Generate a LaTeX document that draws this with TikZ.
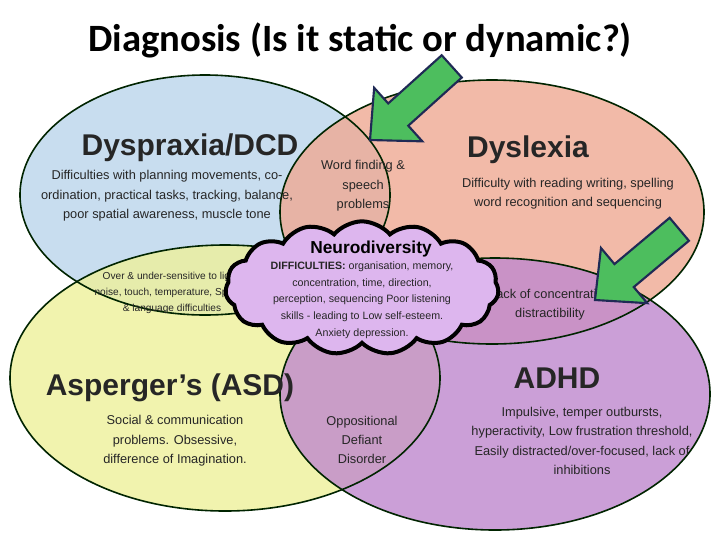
\documentclass[tikz,border=0pt]{standalone}
\usepackage{fontspec}
\setmainfont{Liberation Sans}
\newfontfamily\titlefont{Carlito}
\usetikzlibrary{shapes.symbols}
\definecolor{cblue}{HTML}{BBD5EC}
\definecolor{csal}{HTML}{EFA993}
\definecolor{cyel}{HTML}{EEF09A}
\definecolor{cpur}{HTML}{BF88CE}
\definecolor{ccloud}{HTML}{DDB6EE}
\definecolor{cgreen}{HTML}{4DBE5E}
\definecolor{cnavy}{HTML}{1F2A55}
\colorlet{cline}{black!65!green!40!black}
\begin{document}
\begin{tikzpicture}[x=0.75pt,y=-0.75pt,
  ell/.style={fill opacity=0.8},
  head/.style={font=\fontsize{22.5}{24}\selectfont\bfseries,text=black!85},
  body/.style={font=\fontsize{9.6}{14.5}\selectfont,align=center,text=black!85},
  small/.style={font=\fontsize{7.6}{12}\selectfont,align=center,text=black!85},
  cl/.style={font=\fontsize{8}{12.5}\selectfont,align=center,text=black!85},
  garrow/.style={fill=cgreen,draw=cnavy,line width=1.6pt,line join=miter}]
\useasboundingbox (0,0) rectangle (720,540);
\fill[white] (0,0) rectangle (720,540);
\node[font=\titlefont\fontsize{29}{32}\selectfont\bfseries] (title) at (360,40) {Diagnosis (Is it static or dynamic?)};
\fill[cblue,ell] (205,195) ellipse [x radius=185, y radius=120];
\fill[csal,ell] (492,212) ellipse [x radius=212, y radius=132];
\fill[cyel,ell] (225,378) ellipse [x radius=215, y radius=133];
\fill[cpur,ell] (495,394) ellipse [x radius=215, y radius=136];
\draw[cline,line width=1.2pt] (205,195) ellipse [x radius=185, y radius=120];
\draw[cline,line width=1.2pt] (492,212) ellipse [x radius=212, y radius=132];
\draw[cline,line width=1.2pt] (225,378) ellipse [x radius=215, y radius=133];
\draw[cline,line width=1.2pt] (495,394) ellipse [x radius=215, y radius=136];
\node[head] (dys) at (190,148) {Dyspraxia/DCD};
\node[body] (dyst) at (167,196) {Difficulties with planning movements, co-\\ordination, practical tasks, tracking, balance,\\poor spatial awareness, muscle tone};
\node[head] (dlx) at (528,150) {Dyslexia};
\node[body] (dlxt) at (568,194) {Difficulty with reading writing, spelling\\word recognition and sequencing};
\node[body] (wf) at (363,186) {Word finding \&\\speech\\problems};
\node[head] (asp) at (170,388) {Asperger’s (ASD)};
\node[body] (aspt) at (175,441) {Social \& communication\\problems. Obsessive,\\difference of Imagination.};
\node[body] (odd) at (362,440) {Oppositional\\Defiant\\Disorder};
\node[head] (adhd) at (557,378) {ADHD};
\node[body] (adhdt) at (582,441) {Impulsive, temper outbursts,\\hyperactivity, Low frustration threshold,\\Easily distracted/over-focused, lack of\\inhibitions};
\node[small] (over) at (172,293) {Over \& under-sensitive to light,\\noise, touch, temperature, Speech\\\& language difficulties};
\node[body] (conc) at (550,305) {Lack of concentration\\distractibility};
\node[cloud, cloud puffs=15, cloud puff arc=100, aspect=2, minimum width=205, minimum height=100,
  fill=ccloud, draw=black, line width=3pt] (cloud) at (362,288) {};
\node[font=\fontsize{13}{14}\selectfont\bfseries] (nd) at (371,249) {Neurodiversity};
\node[cl] (ndt) at (362,300) {\textbf{DIFFICULTIES:} organisation, memory,\\concentration, time, direction,\\perception, sequencing Poor listening\\skills - leading to Low self-esteem.\\Anxiety depression.};
\begin{scope}[shift={(370,140)},rotate=42]
\draw[garrow] (0,0) -- (38,-36) -- (38,-15) -- (110,-15) -- (110,15) -- (38,15) -- (38,36) -- cycle;
\end{scope}
\begin{scope}[shift={(595,300)},rotate=40]
\draw[garrow] (0,0) -- (38,-36) -- (38,-15) -- (110,-15) -- (110,15) -- (38,15) -- (38,36) -- cycle;
\end{scope}
\end{tikzpicture}
\end{document}
